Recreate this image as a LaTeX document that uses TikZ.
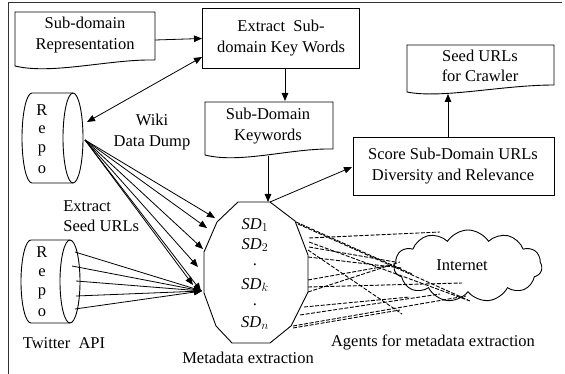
\documentclass[tikz,border=0pt]{standalone}
\usepackage{fontspec}
\setmainfont{Liberation Serif}
\usetikzlibrary{arrows.meta,shapes.symbols}
\begin{document}
\begin{tikzpicture}[x=1pt,y=-1pt,line width=0.8pt,
  tip/.style={-{Triangle[length=8pt,width=6.5pt]}},
  dtip/.style={{Triangle[length=8pt,width=6.5pt]}-{Triangle[length=8pt,width=6.5pt]}},
  lbl/.style={font=\fontsize{16.5}{20.5}\selectfont,align=center,inner sep=0pt},
  sdl/.style={font=\fontsize{16.5}{20}\selectfont,inner sep=0pt},
  shp/.style={draw,line width=0.9pt},
  agent/.style={dash pattern=on 4pt off 1.6pt,line width=0.9pt,black},
  boxst/.style={draw,line width=0.9pt,inner sep=0pt}]
\useasboundingbox (0,0) rectangle (565,374);
% frame
\draw[line width=1pt,black!80] (8,374) -- (8,3) -- (562,3);

% Sub-domain Representation (document)
\draw[shp] (15,12) -- (155,12) -- (155,60) .. controls (110,59) and (52,75) .. (15,66) -- cycle;
\node[lbl] (rep) at (85,35) {Sub-domain\\Representation};

% Extract Sub-domain Key Words
\node[boxst,minimum width=157pt,minimum height=60pt] (ext) at (280.5,38) {};
\node[lbl] (extt) at (281,38) {Extract\ \ Sub-\\domain Key Words};

% Sub-Domain Keywords (document)
\draw[shp] (205,102) -- (333,102) -- (333,149) .. controls (292,148) and (240,164) .. (205,155) -- cycle;
\node[lbl] (kw) at (268,126) {Sub-Domain\\Keywords};

% Seed URLs for Crawler (document)
\draw[shp] (407,45) -- (554,45) -- (554,85) .. controls (502,85) and (442,99) .. (407,92) -- cycle;
\node[lbl] (seed) at (480,66) {Seed URLs\\for Crawler};

% Score box
\node[boxst,minimum width=201pt,minimum height=58pt] (score) at (453.5,166) {};
\node[lbl] (scoret) at (453,166) {Score Sub-Domain URLs\\Diversity and Relevance};

% Wiki repo cylinder
\draw[shp] (73,93) -- (32,93) arc[start angle=270,end angle=90,x radius=10,y radius=45] -- (73,183);
\draw[shp] (73,138) ellipse[x radius=10,y radius=45];
\node[sdl] (w1) at (42,110) {R};
\node[sdl] (w2) at (42,130) {e};
\node[sdl] (w3) at (42,150) {p};
\node[sdl] (w4) at (42,170) {o};
\node[lbl] (wiki) at (152,132) {Wiki\\Data Dump};

% Twitter repo cylinder
\draw[shp] (70,240) -- (31,240) arc[start angle=270,end angle=90,x radius=10,y radius=41.5] -- (70,323);
\draw[shp] (70,281.5) ellipse[x radius=10,y radius=41.5];
\node[sdl] (t1) at (42,252) {R};
\node[sdl] (t2) at (42,273) {e};
\node[sdl] (t3) at (42,293) {p};
\node[sdl] (t4) at (42,313) {o};
\node[lbl] (tw) at (64,343) {Twitter\ \ API};

\node[lbl,align=left,anchor=west] (exs) at (63,216) {Extract\\Seed URLs};

% metadata polygon
\draw[shp] (238,202) -- (270,202) -- (295,221) -- (308,255) -- (308,292) -- (291,326) -- (270,343)
  -- (232,343) -- (216,326) -- (204,293) -- (204,252) -- (217,222) -- cycle;
\node[sdl] (sd1) at (255,225) {\textit{SD}$_1$};
\node[sdl] (sd2) at (255,245) {\textit{SD}$_2$};
\node[sdl] (dot1) at (255,265) {.};
\node[sdl] (sdk) at (255,285) {\textit{SD}$_k$};
\node[sdl] (dot2) at (255,305) {.};
\node[sdl] (sdn) at (255,323) {\textit{SD}$_n$};
\node[lbl] (meta) at (248,358) {Metadata extraction};

% cloud
\node[cloud,draw,line width=0.9pt,cloud puffs=11,cloud puff arc=115,cloud ignores aspect,
  minimum width=148pt,minimum height=72pt,inner sep=0pt] (net) at (468,266) {};
\node[lbl] (nett) at (462,265) {Internet};
\node[lbl] (agt) at (433,342) {Agents for metadata\ extraction};

% coordinates
\coordinate (repE) at (155,40);
\coordinate (extW) at (202,38.5);
\coordinate (extWl) at (202,57);
\coordinate (wikiTop) at (87,122);
\coordinate (extS) at (285,68);
\coordinate (kwN) at (285,101);
\coordinate (kwS) at (268,156);
\coordinate (polT) at (268,202);
\coordinate (polTR) at (270,202);
\coordinate (scoreW) at (352,167);
\coordinate (scoreN) at (448,137);
\coordinate (seedS) at (448,94);

\draw[tip] (repE) -- (extW);
\draw[dtip] (extWl) -- (wikiTop);
\draw[tip] (extS) -- (kwN);
\draw[tip] (kwS) -- (polT);
\draw[tip] (polTR) -- (scoreW);
\draw[tip] (scoreN) -- (seedS);

% wiki -> metadata
\coordinate (wk) at (85,140);
\coordinate (wa1) at (215,218);
\coordinate (wa2) at (207,228);
\coordinate (wa3) at (203,249);
\coordinate (wa4) at (198,267);
\coordinate (wa5) at (193,285);
\coordinate (wa6) at (201,291);
\draw[tip] (wk) -- (wa1);
\draw[tip] (wk) -- (wa2);
\draw[tip] (wk) -- (wa3);
\draw[tip] (wk) -- (wa4);
\draw[tip] (wk) -- (wa5);
\draw[tip] (wk) -- (wa6);

% twitter -> metadata
\coordinate (tend) at (202,291);
\coordinate (ts1) at (75,252);
\coordinate (ts2) at (72,266);
\coordinate (ts3) at (76,281);
\coordinate (ts4) at (76,296);
\coordinate (ts5) at (75,309);
\draw[tip] (ts1) -- (tend);
\draw[tip] (ts2) -- (tend);
\draw[tip] (ts3) -- (tend);
\draw[tip] (ts4) -- (tend);
\draw[tip] (ts5) -- (tend);

% agents (dashed)
\coordinate (a1) at (296,222);  \coordinate (b1) at (412,274);
\coordinate (a2) at (298,224);  \coordinate (b2) at (468,300);
\coordinate (a3) at (309,238);  \coordinate (b3) at (440,232);
\coordinate (a4) at (309,242);  \coordinate (b4) at (470,301);
\coordinate (a5) at (309,247);  \coordinate (b5) at (395,262);
\coordinate (a6) at (308,257);  \coordinate (b6) at (402,268);
\coordinate (a7) at (308,280);  \coordinate (b7) at (392,265);
\coordinate (a8) at (308,292);  \coordinate (b8) at (400,262);
\coordinate (a9) at (308,287);  \coordinate (b9) at (462,283);
\coordinate (a10) at (304,307); \coordinate (b10) at (410,297);
\coordinate (a11) at (300,315); \coordinate (b11) at (440,294);
\coordinate (a12) at (293,326); \coordinate (b12) at (466,296);
\coordinate (a13) at (293,328); \coordinate (b13) at (400,310);
\coordinate (a14) at (308,250); \coordinate (b14) at (402,314);
\draw[agent] (a1) -- (b1);
\draw[agent] (a2) -- (b2);
\draw[agent] (a3) -- (b3);
\draw[agent] (a4) -- (b4);
\draw[agent] (a5) -- (b5);
\draw[agent] (a6) -- (b6);
\draw[agent] (a7) -- (b7);
\draw[agent] (a8) -- (b8);
\draw[agent] (a9) -- (b9);
\draw[agent] (a10) -- (b10);
\draw[agent] (a11) -- (b11);
\draw[agent] (a12) -- (b12);
\draw[agent] (a13) -- (b13);
\draw[agent] (a14) -- (b14);
\end{tikzpicture}
\end{document}
